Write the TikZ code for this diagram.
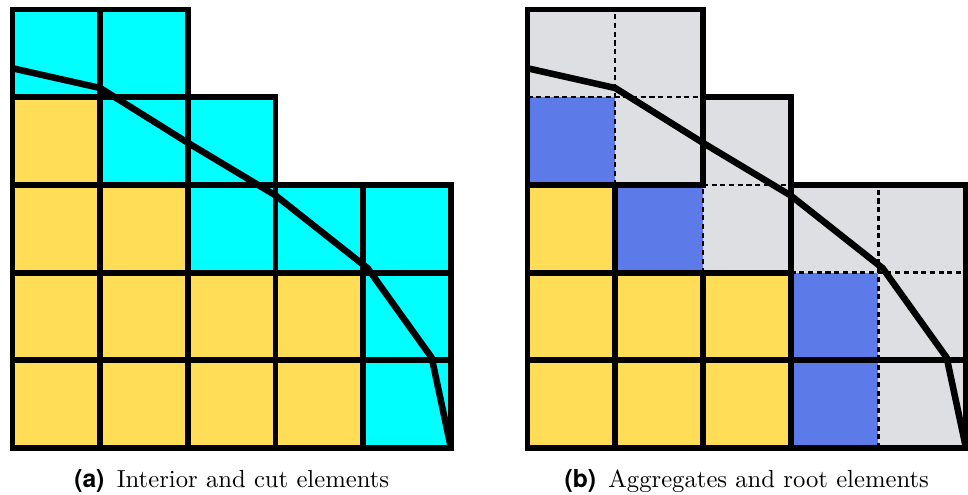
\documentclass[tikz,border=0pt]{standalone}
\usepackage{fontspec}
\newfontfamily\labfont{TeX Gyre Heros}
\usepackage{tikz}
\definecolor{ccut}{HTML}{00FFFF}
\definecolor{cint}{HTML}{FFDD57}
\definecolor{croot}{HTML}{5C7AE8}
\definecolor{cagg}{HTML}{DEDFE3}
\tikzset{
  cell/.style={draw=black, line width=2.4pt},
  aggbox/.style={draw=black, line width=2.4pt},
  inedge/.style={draw=black, line width=1pt, dash pattern=on 2.1pt off 1.5pt},
  bnd/.style={draw=black, line width=2.7pt, line join=round},
  subcap/.style={anchor=base, inner sep=0pt, font=\fontsize{10.2}{12}\selectfont},
}

\begin{document}
\begin{tikzpicture}[x=1.274cm, y=1.274cm]
  \useasboundingbox (0,0) rectangle (11.038,5.633);

  % (a) interior and cut elements
  \begin{scope}[shift={(0.1425,0.5245)}]
    \foreach \i/\j/\c in {0/4/ccut, 1/4/ccut, 0/3/cint, 1/3/ccut, 2/3/ccut,
        0/2/cint, 1/2/cint, 2/2/ccut, 3/2/ccut, 4/2/ccut,
        0/1/cint, 1/1/cint, 2/1/cint, 3/1/cint, 4/1/ccut,
        0/0/cint, 1/0/cint, 2/0/cint, 3/0/cint, 4/0/ccut}
      \filldraw[cell, fill=\c] (\i,\j) rectangle ++(1,1);
    \draw[bnd] (0,4.33) -- (1,4.105) -- (2,3.48) -- (3,2.88) -- (4.05,2.05)
      -- (4.78,1.03) -- (5,0);
    \node[subcap] (capa) at (2.5,-0.445)
      {{\labfont\bfseries (a)}\enspace Interior and cut elements};
  \end{scope}

  % (b) aggregates and root elements
  \begin{scope}[shift={(6.015,0.5245)}]
    \foreach \i/\j/\c in {0/4/cagg, 1/4/cagg, 0/3/croot, 1/3/cagg, 2/3/cagg,
        0/2/cint, 1/2/croot, 2/2/cagg, 3/2/cagg, 4/2/cagg,
        0/1/cint, 1/1/cint, 2/1/cint, 3/1/croot, 4/1/cagg,
        0/0/cint, 1/0/cint, 2/0/cint, 3/0/croot, 4/0/cagg}
      \fill[\c] (\i,\j) rectangle ++(1,1);
    % edges inside an aggregate
    \draw[inedge] (1,3) -- (1,5) (0,4) -- (2,4);
    \draw[inedge] (2,3) -- (3,3) (2,2) -- (2,3);
    \draw[inedge] (4,1) -- (4,3) (3,2) -- (5,2);
    \draw[inedge] (4,0) -- (4,1);
    % interior elements
    \foreach \i/\j in {0/2, 0/1, 1/1, 2/1, 0/0, 1/0, 2/0}
      \draw[cell] (\i,\j) rectangle ++(1,1);
    % aggregate outlines
    \draw[aggbox] (0,3) -- (2,3) -- (2,5) -- (0,5) -- cycle;
    \draw[aggbox] (1,2) -- (3,2) -- (3,4) -- (2,4) -- (2,3) -- (1,3) -- cycle;
    \draw[aggbox] (3,1) -- (5,1) -- (5,3) -- (3,3) -- cycle;
    \draw[aggbox] (3,0) -- (5,0) -- (5,1) -- (3,1) -- cycle;
    \draw[bnd] (0,4.33) -- (1,4.105) -- (2,3.48) -- (3,2.88) -- (4.05,2.05)
      -- (4.78,1.03) -- (5,0);
    \node[subcap] (capb) at (2.5,-0.445)
      {{\labfont\bfseries (b)}\enspace Aggregates and root elements};
  \end{scope}
\end{tikzpicture}
\end{document}
